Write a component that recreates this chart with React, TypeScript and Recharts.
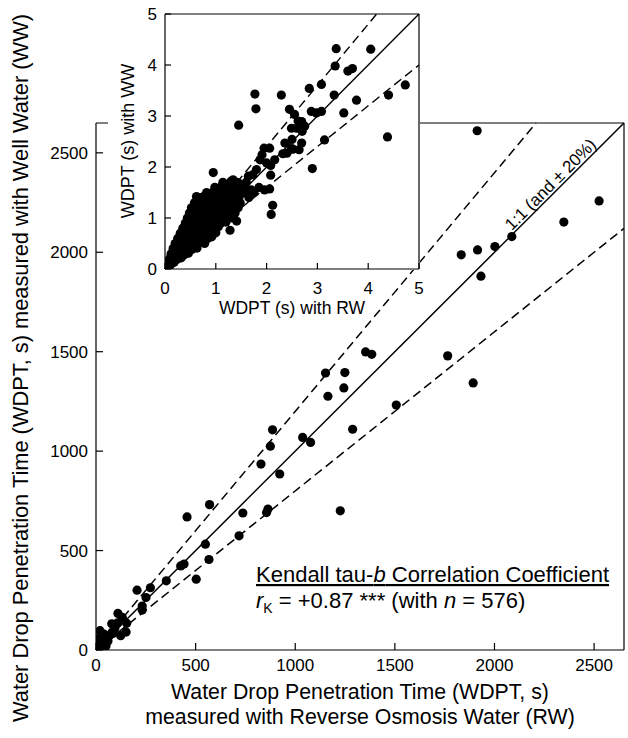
import React from 'react';
import { ScatterChart, Scatter, XAxis, YAxis, ReferenceLine } from 'recharts';

const FONT = 'Arial, "Liberation Sans", Helvetica, sans-serif';

// main plot: WDPT (s) with RW (x) vs with WW (y)
const mainTicks = [0, 500, 1000, 1500, 2000, 2500];
const mainMax = 2650;
const mainPairs: [number, number][] = [
  [1913, 2611], [2525, 2258], [2348, 2152], [2087, 2079], [2002, 2029], [1915, 2012],
  [1833, 1987], [1932, 1880], [1765, 1479], [1893, 1343],
  [1152, 1393], [1249, 1395], [1164, 1276], [1244, 1318], [1353, 1499], [1384, 1487],
  [1507, 1232], [1288, 1110],
  [886, 1107], [875, 1025], [1037, 1069], [1077, 1044], [828, 935], [922, 885],
  [570, 731], [457, 669], [737, 689], [863, 709], [856, 691], [1226, 700],
  [549, 532], [718, 574], [425, 423], [442, 432], [567, 455], [353, 348], [503, 356],
  [206, 301], [273, 313], [251, 264], [232, 221], [232, 201],
  [110, 184], [132, 164], [79, 132], [154, 134], [108, 136], [82, 90], [151, 90],
  [124, 72], [87, 84], [54, 67], [70, 75], [20, 97], [37, 50], [20, 33], [3, 17],
  [10, 5], [30, 20], [45, 35], [60, 45], [15, 60], [50, 20], [95, 110], [40, 80],
];

// inset: first 5 s of the same comparison
const insetTicks = [0, 1, 2, 3, 4, 5];
const insetMax = 5;
const insetOuter: [number, number][] = [
  [3.37, 4.32], [4.05, 4.31], [3.35, 3.98], [3.6, 3.88], [3.69, 3.93], [3.08, 3.62],
  [2.84, 3.54], [1.77, 3.43], [2.29, 3.41], [1.79, 3.14], [3.33, 3.41], [3.77, 3.31],
  [3.52, 3.06], [4.4, 3.41], [4.73, 3.61], [4.38, 2.59], [1.45, 2.82], [2.45, 3.13],
  [2.88, 3.09], [2.98, 3.06], [3.08, 3.09], [2.55, 3.03], [2.69, 2.89], [2.59, 2.76],
  [2.49, 2.76], [2.75, 2.8], [3.14, 2.53], [2.69, 2.47], [2.5, 2.54], [2.36, 2.47],
  [2.49, 2.36], [2.32, 2.26], [2.9, 1.97], [1.95, 2.37], [2.06, 2.37], [1.91, 2.24],
  [2.16, 2.14], [2.08, 2.03], [2.0, 2.08], [1.87, 2.14], [2.08, 1.84], [0.95, 1.89],
  [1.8, 1.95], [1.73, 1.85], [1.64, 1.82], [1.34, 1.75], [1.41, 1.7], [1.31, 1.65],
  [2.06, 1.57], [1.96, 1.55], [0.62, 1.42], [2.12, 1.25], [2.09, 1.07], [1.28, 0.76],
  [1.41, 0.94], [2.4, 2.27], [2.52, 2.35], [2.64, 2.34], [2.62, 2.9], [2.7, 2.7],
  [1.55, 1.6], [1.6, 1.5], [1.7, 1.55], [1.65, 1.4], [1.75, 1.5], [1.85, 1.6],
];
const insetCore: [number, number][] = [
  [0.03, 0.05], [0.08, 0.04], [0.06, 0.12], [0.12, 0.1], [0.18, 0.13],
  [0.09, 0.2], [0.16, 0.21], [0.24, 0.19], [0.32, 0.22],
  [0.12, 0.3], [0.21, 0.29], [0.29, 0.31], [0.38, 0.28], [0.46, 0.31],
  [0.16, 0.4], [0.25, 0.41], [0.34, 0.39], [0.44, 0.42], [0.53, 0.38], [0.63, 0.41],
  [0.2, 0.5], [0.3, 0.52], [0.39, 0.49], [0.5, 0.51], [0.59, 0.48], [0.69, 0.52], [0.78, 0.5],
  [0.25, 0.6], [0.34, 0.62], [0.44, 0.59], [0.55, 0.61], [0.64, 0.58], [0.74, 0.62], [0.84, 0.6], [0.92, 0.63],
  [0.3, 0.7], [0.4, 0.72], [0.5, 0.69], [0.6, 0.71], [0.7, 0.68], [0.8, 0.72], [0.9, 0.7], [1.0, 0.71],
  [0.35, 0.8], [0.45, 0.82], [0.55, 0.79], [0.65, 0.81], [0.75, 0.78], [0.85, 0.82], [0.95, 0.8], [1.05, 0.83],
  [0.4, 0.9], [0.5, 0.91], [0.6, 0.89], [0.7, 0.92], [0.8, 0.9], [0.9, 0.88], [1.0, 0.91], [1.1, 0.9], [1.2, 0.92],
  [0.44, 1.0], [0.54, 1.02], [0.64, 0.99], [0.74, 1.01], [0.84, 0.98], [0.94, 1.02], [1.04, 1.0], [1.14, 0.99], [1.24, 1.02], [1.32, 1.0],
  [0.48, 1.1], [0.58, 1.12], [0.68, 1.09], [0.78, 1.11], [0.88, 1.08], [0.98, 1.12], [1.08, 1.1], [1.18, 1.09], [1.28, 1.12], [1.38, 1.1],
  [0.52, 1.2], [0.62, 1.22], [0.72, 1.19], [0.82, 1.21], [0.92, 1.18], [1.02, 1.22], [1.12, 1.2], [1.22, 1.19], [1.32, 1.22], [1.44, 1.2],
  [0.58, 1.3], [0.68, 1.32], [0.78, 1.29], [0.88, 1.31], [0.98, 1.28], [1.08, 1.32], [1.18, 1.3], [1.28, 1.29], [1.38, 1.32], [1.48, 1.3],
  [0.66, 1.4], [0.76, 1.42], [0.86, 1.39], [0.96, 1.41], [1.06, 1.38], [1.16, 1.42], [1.26, 1.4], [1.36, 1.39], [1.46, 1.42],
  [0.82, 1.5], [0.92, 1.49], [1.02, 1.52], [1.12, 1.5], [1.22, 1.48], [1.32, 1.51], [1.44, 1.5], [1.52, 1.49],
  [0.98, 1.6], [1.1, 1.61], [1.24, 1.59], [1.36, 1.62], [1.48, 1.6], [1.58, 1.58],
  [1.14, 1.7], [1.3, 1.72], [1.44, 1.69], [1.6, 1.7],
];

// 1:1 line and the +/-20 % envelope
const ratios = [1, 1.2, 0.8];

const toPoints = (pairs: [number, number][]) => pairs.map(([rw, ww]) => ({ rw, ww }));

const dot = (r: number) => (p: any) => <circle cx={p.cx} cy={p.cy} r={r} fill="#000" />;

const bottomTick = (len: number, gap: number, size: number) => (p: any) => (
  <g>
    <line x1={p.x} x2={p.x} y1={p.y} y2={p.y - len} stroke="#000" strokeWidth={1.2} />
    <text x={p.x} y={p.y + gap} textAnchor="middle" fontSize={size} fontFamily={FONT} fill="#000">
      {p.payload.value}
    </text>
  </g>
);

const leftTick = (len: number, gap: number, size: number) => (p: any) => (
  <g>
    <line x1={p.x} x2={p.x + len} y1={p.y} y2={p.y} stroke="#000" strokeWidth={1.2} />
    <text x={p.x - gap} y={p.y + size * 0.36} textAnchor="end" fontSize={size} fontFamily={FONT} fill="#000">
      {p.payload.value}
    </text>
  </g>
);

function envelope(max: number, dash: string, width: number) {
  return ratios.map((k) => (
    <ReferenceLine
      key={k}
      segment={[{ x: 0, y: 0 }, { x: Math.min(max, max / k), y: Math.min(max, max * k) }]}
      stroke="#000"
      strokeWidth={width}
      strokeDasharray={k === 1 ? undefined : dash}
      ifOverflow="visible"
    />
  ));
}

function frame(max: number) {
  return [
    <ReferenceLine key="fx" x={max} stroke="#000" strokeWidth={1.2} ifOverflow="visible" />,
    <ReferenceLine key="fy" y={max} stroke="#000" strokeWidth={1.2} ifOverflow="visible" />,
  ];
}

export default function App() {
  const mainData = toPoints(mainPairs);
  return (
    <div style={{ position: 'absolute', left: 0, top: 0, width: 628, height: 738, background: '#fff', fontFamily: FONT }}>
      <div style={{ position: 'absolute', left: 0, top: 0 }}>
        <ScatterChart width={628} height={738} margin={{ top: 123, right: 4, left: 0, bottom: 0 }}>
          <XAxis
            type="number"
            dataKey="rw"
            domain={[0, mainMax]}
            ticks={mainTicks}
            height={88}
            tickSize={0}
            tickMargin={0}
            tickLine={false}
            axisLine={{ stroke: '#000', strokeWidth: 1.2 }}
            tick={bottomTick(7, 21, 17)}
            allowDataOverflow
          />
          <YAxis
            type="number"
            dataKey="ww"
            domain={[0, mainMax]}
            ticks={mainTicks}
            width={96}
            tickSize={0}
            tickMargin={0}
            tickLine={false}
            axisLine={{ stroke: '#000', strokeWidth: 1.2 }}
            tick={leftTick(7, 8, 17)}
            allowDataOverflow
          />
          {frame(mainMax)}
          {envelope(mainMax, '9 5', 1.5)}
          <Scatter data={mainData} shape={dot(4.6)} isAnimationActive={false} />
        </ScatterChart>
      </div>

      <div style={{ position: 'absolute', left: 108, top: 0, width: 312, height: 270, background: '#fff' }} />

      <div style={{ position: 'absolute', left: 100, top: 0 }}>
        <ScatterChart width={330} height={330} margin={{ top: 14, right: 11, left: 0, bottom: 0 }}>
          <XAxis
            type="number"
            dataKey="rw"
            domain={[0, insetMax]}
            ticks={insetTicks}
            height={61}
            tickSize={0}
            tickMargin={0}
            tickLine={false}
            axisLine={{ stroke: '#000', strokeWidth: 1.2 }}
            tick={bottomTick(6, 25, 17)}
            allowDataOverflow
          />
          <YAxis
            type="number"
            dataKey="ww"
            domain={[0, insetMax]}
            ticks={insetTicks}
            width={65}
            tickSize={0}
            tickMargin={0}
            tickLine={false}
            axisLine={{ stroke: '#000', strokeWidth: 1.2 }}
            tick={leftTick(6, 8, 17)}
            allowDataOverflow
          />
          {frame(insetMax)}
          {envelope(insetMax, '9 5', 1.4)}
          <Scatter data={toPoints(insetCore)} shape={dot(4.6)} isAnimationActive={false} />
          <Scatter data={toPoints(insetOuter)} shape={dot(4.6)} isAnimationActive={false} />
        </ScatterChart>
      </div>

      <svg width={628} height={738} style={{ position: 'absolute', left: 0, top: 0, pointerEvents: 'none' }} fontFamily={FONT}>
        <text
          transform="translate(20,368) rotate(-90)"
          textAnchor="middle"
          dy="0.35em"
          fontSize={21.5}
          textLength={708}
          lengthAdjust="spacingAndGlyphs"
        >
          Water Drop Penetration Time (WDPT, s) measured with Well Water (WW)
        </text>
        <text x={360} y={699} textAnchor="middle" fontSize={21.3}>
          Water Drop Penetration Time (WDPT, s)
        </text>
        <text x={360} y={724} textAnchor="middle" fontSize={21.3}>
          measured with Reverse Osmosis Water (RW)
        </text>
        <text x={292} y={314} textAnchor="middle" fontSize={17.5}>
          WDPT (s) with RW
        </text>
        <text transform="translate(128,141) rotate(-90)" textAnchor="middle" dy="0.35em" fontSize={18}>
          WDPT (s) with WW
        </text>
        <text transform="translate(554.5,188.5) rotate(-45)" textAnchor="middle" fontSize={17}>
          1:1 (and ± 20%)
        </text>
        <text x={256} y={582} fontSize={22} textDecoration="underline">
          Kendall tau-<tspan fontStyle="italic">b</tspan> Correlation Coefficient
        </text>
        <text x={256} y={608} fontSize={22}>
          <tspan fontStyle="italic">r</tspan>
          <tspan fontSize={14} dy={5}>K</tspan>
          <tspan dy={-5}> = +0.87 *** (with </tspan>
          <tspan fontStyle="italic">n</tspan>
          <tspan> = 576)</tspan>
        </text>
      </svg>
    </div>
  );
}
